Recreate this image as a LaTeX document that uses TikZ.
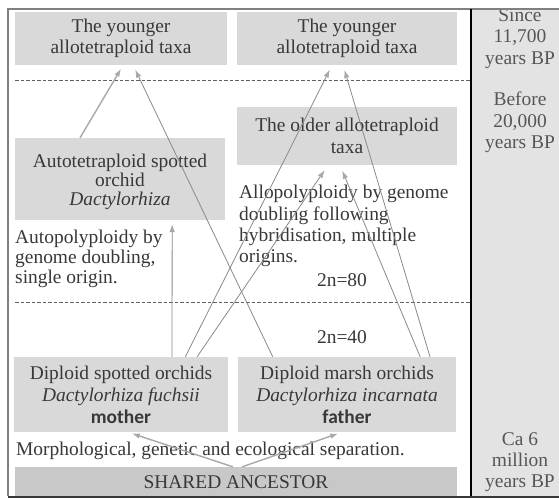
\documentclass[tikz,border=0pt]{standalone}
\usepackage{fontspec}
\setmainfont{Liberation Serif}
\newfontfamily\tagfont{Carlito}
\usetikzlibrary{arrows.meta,calc}
\definecolor{BoxGray}{HTML}{D9D9D9}
\definecolor{ColGray}{HTML}{E3E3E3}
\definecolor{Ink}{HTML}{383838}
\definecolor{LineGray}{HTML}{8A8A8A}
\definecolor{TipGray}{HTML}{A8A8A8}
\definecolor{FrameGray}{HTML}{808080}

\begin{document}
\begin{tikzpicture}[x=1bp,y=-1bp,font=\fontsize{19.5}{21.5}\selectfont,text=Ink,
  taxon/.style={fill=BoxGray,inner sep=0pt,align=center},
  note/.style={inner sep=0pt,align=left},
  era/.style={inner sep=0pt,align=center,text=Ink!85},
  link/.style={draw=LineGray,line width=0.8bp,shorten >=5bp,
    -{Latex[length=8bp,width=5.5bp,color=TipGray]}},
  sepline/.style={draw=TipGray,line width=1.4bp,shorten >=4bp,
    -{Latex[length=8bp,width=5.5bp,color=TipGray]}},
  period/.style={draw=Ink!80,line width=0.9bp,dash pattern=on 3.5bp off 2bp}]
  \useasboundingbox[fill=white] (0,0) rectangle (559,498);

  % Time column on the right.
  \fill[ColGray] (471,9) rectangle (559,498);
  \node[era,anchor=north] (since) at (520,8.5) {Since\\11,700\\years BP};
  \node[era,anchor=north] (before) at (520,92) {Before\\20,000\\years BP};
  \node[era,anchor=north] (ca) at (520,432) {Ca 6\\million\\years BP};

  % Periods.
  \draw[period] (15,80) -- (470,80);
  \draw[period] (15,302) -- (470,302);

  % Taxa.
  \node[taxon,minimum width=212bp,minimum height=53bp] (youngL) at (121,38.5)
    {The younger\\allotetraploid taxa};
  \node[taxon,minimum width=220bp,minimum height=53bp] (youngR) at (347,38.5)
    {The younger\\allotetraploid taxa};
  \node[taxon,minimum width=220bp,minimum height=58bp] (older) at (347,136)
    {The older allotetraploid\\taxa};
  \node[taxon,font=\fontsize{19.5}{19}\selectfont,minimum width=210bp,minimum height=82bp]
    (autot) at (120,179)
    {\rule{0pt}{19bp}Autotetraploid spotted\\orchid\\\textit{Dactylorhiza}};
  \node[taxon,font=\fontsize{19.5}{22}\selectfont,minimum width=214bp,minimum height=75bp]
    (spotted) at (121,394.5)
    {Diploid spotted orchids\\\textit{Dactylorhiza fuchsii}\\{\tagfont\bfseries mother}};
  \node[taxon,font=\fontsize{19.5}{22}\selectfont,minimum width=218bp,minimum height=75bp]
    (marsh) at (347,394.5)
    {Diploid marsh orchids\\\textit{Dactylorhiza incarnata}\\{\tagfont\bfseries father}};
  \node[taxon,fill=BoxGray!92!black,minimum width=442bp,minimum height=30bp]
    (ancestor) at (236,482) {SHARED ANCESTOR};

  % Notes.
  \node[note,font=\fontsize{19.5}{20}\selectfont,anchor=north west] (autonote) at (15,230)
    {Autopolyploidy by\\genome doubling,\\single origin.};
  \node[note,anchor=north west] (allonote) at (239,185)
    {Allopolyploidy by genome\\doubling following\\hybridisation, multiple\\origins.};
  \node[anchor=base,inner sep=0pt] (n80) at (342,286) {2n=80};
  \node[anchor=base,inner sep=0pt] (n40) at (342,343) {2n=40};
  \node[anchor=base west,inner sep=0pt] (separation) at (16,455)
    {Morphological, genetic and ecological separation.};

  % Origins.
  \draw[sepline] ($(autot.north west)!0.31!(autot.north east)$)
    -- ($(youngL.south west)!0.51!(youngL.south east)$);
  \draw[link] ($(marsh.north west)!0.16!(marsh.north east)$)
    -- ($(youngL.south west)!0.557!(youngL.south east)$);
  \draw[link,shorten >=4bp] ($(spotted.north west)!0.738!(spotted.north east)$)
    -- ($(autot.south west)!0.748!(autot.south east)$);
  \draw[link] ($(spotted.north west)!0.8!(spotted.north east)$)
    -- ($(youngR.south west)!0.432!(youngR.south east)$);
  \draw[link,shorten >=6bp] ($(spotted.north west)!0.855!(spotted.north east)$)
    -- ($(older.south west)!0.414!(older.south east)$);
  \draw[link,shorten >=6bp] ($(marsh.north west)!0.835!(marsh.north east)$)
    -- ($(older.south west)!0.468!(older.south east)$);
  \draw[link] ($(marsh.north west)!0.88!(marsh.north east)$)
    -- ($(youngR.south west)!0.482!(youngR.south east)$);
  \draw[sepline] ($(ancestor.north west)!0.493!(ancestor.north east)$)
    -- ($(spotted.south west)!0.533!(spotted.south east)$);
  \draw[sepline] ($(ancestor.north west)!0.514!(ancestor.north east)$)
    -- ($(marsh.south west)!0.477!(marsh.south east)$);

  % Frame.
  \draw[FrameGray,line width=1.2bp] (8,496) -- (8,9) -- (559,9);
  \draw[black,line width=1.2bp] (471,9) -- (471,498);
  \draw[Ink,line width=2bp] (8,496.5) -- (559,496.5);
\end{tikzpicture}
\end{document}
